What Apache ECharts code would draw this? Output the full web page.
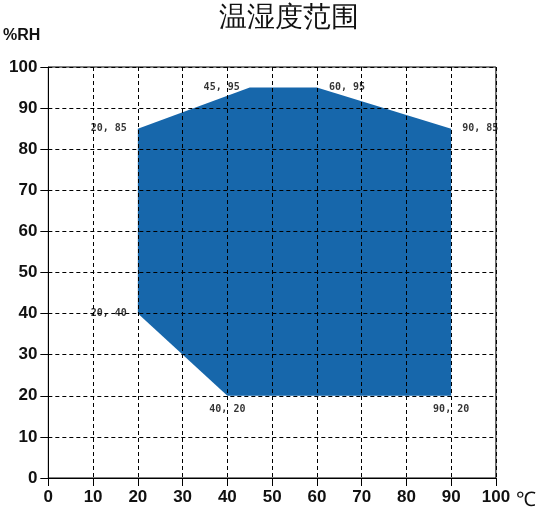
<!DOCTYPE html>
<html>
<head>
<meta charset="utf-8">
<script src="https://cdn.jsdelivr.net/npm/echarts@6/dist/echarts.min.js"></script>
<style>
  html, body { margin: 0; padding: 0; background: #fff; }
  #chart { width: 539px; height: 516px; }
</style>
</head>
<body>
<div id="chart"></div>
<script>
// 温湿度范围 - corner points of the polygon
const temps = [20, 20, 45, 60, 90, 90, 40]
const humids = [40, 85, 95, 95, 85, 20, 20]
const xTicks = [0, 10, 20, 30, 40, 50, 60, 70, 80, 90, 100]
const yTicks = [0, 10, 20, 30, 40, 50, 60, 70, 80, 90, 100]

// where each corner label sits
const labelPlace = [
  { position: 'left', distance: 11 },
  { position: 'left', distance: 11 },
  { position: 'left', distance: 10 },
  { position: 'right', distance: 12 },
  { position: 'right', distance: 11 },
  { position: 'bottom', distance: 9 },
  { position: 'bottom', distance: 9 }
]

const chart = echarts.init(document.getElementById('chart'))

const axisText = { color: '#111', fontSize: 17, fontWeight: 'bold', fontFamily: 'Arial, Liberation Sans, sans-serif' }
const dashed = { color: '#000', width: 1, type: [4, 3] }

const option = {
  animation: false,
  title: {
    text: '温湿度范围',
    left: 214,
    top: 0,
    textStyle: { fontSize: 28, fontWeight: 'normal', color: '#111', fontFamily: 'serif' }
  },
  grid: {
    left: 48, right: 42, top: 67, bottom: 38,
    show: true, borderColor: '#000', borderWidth: 1
  },
  xAxis: {
    type: 'value',
    min: xTicks[0],
    max: xTicks[xTicks.length - 1],
    interval: 10,
    z: 5,
    name: '℃',
    nameLocation: 'end',
    nameGap: 18,
    nameTextStyle: { fontSize: 20, color: '#111', verticalAlign: 'top', padding: [12, 0, 0, 0] },
    axisLine: { lineStyle: { color: '#000', width: 1 } },
    axisTick: { length: 8, lineStyle: { color: '#000' } },
    axisLabel: Object.assign({ margin: 11 }, axisText),
    splitLine: { show: true, lineStyle: dashed }
  },
  yAxis: {
    type: 'value',
    min: yTicks[0],
    max: yTicks[yTicks.length - 1],
    interval: 10,
    z: 5,
    name: '%RH',
    nameLocation: 'end',
    nameGap: 23,
    nameTextStyle: Object.assign({ align: 'right', padding: [0, 8, 0, 0] }, axisText, { fontSize: 16 }),
    axisLine: { show: true, lineStyle: { color: '#000', width: 1 } },
    axisTick: { show: true, length: 8, lineStyle: { color: '#000' } },
    axisLabel: Object.assign({ margin: 11 }, axisText),
    splitLine: { show: true, lineStyle: dashed }
  },
  series: [
    {
      type: 'custom',
      z: 2,
      data: [0],
      renderItem: function (params, api) {
        const pts = temps.map(function (t, i) { return api.coord([t, humids[i]]) })
        return { type: 'polygon', shape: { points: pts }, style: { fill: '#1767ab' } }
      }
    },
    {
      type: 'scatter',
      z: 6,
      symbolSize: 0,
      data: temps.map(function (t, i) {
        return {
          value: [t, humids[i]],
          label: Object.assign({
            show: true,
            formatter: t + ', ' + humids[i],
            color: '#000',
            fontSize: 10,
            fontWeight: 'bold',
            fontFamily: 'DejaVu Sans Mono, monospace'
          }, labelPlace[i])
        }
      })
    }
  ]
}

chart.setOption(option)
</script>
</body>
</html>
